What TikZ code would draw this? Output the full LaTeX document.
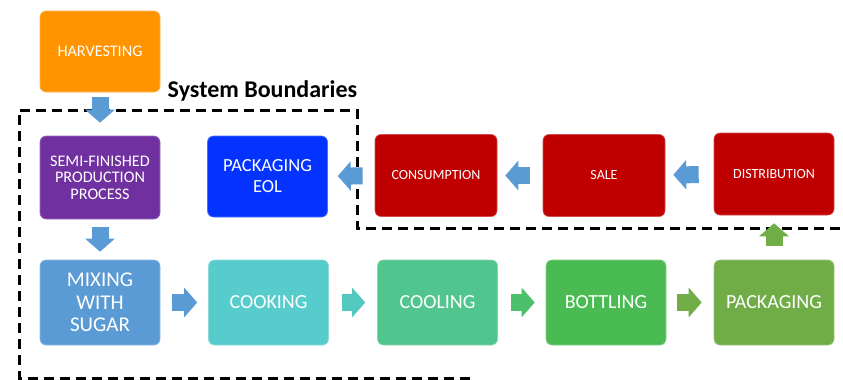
\documentclass[tikz,border=0pt]{standalone}
\usepackage{fontspec}
\setmainfont{Carlito}
\usetikzlibrary{arrows.meta}

\definecolor{harvestorange}{HTML}{FF9300}
\definecolor{semipurple}{HTML}{7030A0}
\definecolor{eolblue}{HTML}{0433FF}
\definecolor{salered}{HTML}{C00000}
\definecolor{mixblue}{HTML}{5B9BD5}
\definecolor{cookteal}{HTML}{56CCCC}
\definecolor{coolgreen}{HTML}{51C58E}
\definecolor{bottlegreen}{HTML}{4ABB52}
\definecolor{packgreen}{HTML}{70AD47}
\definecolor{tealarrow}{HTML}{52C8BE}
\definecolor{greenarrow}{HTML}{4DC06C}

\newcommand\stagesmall{\fontsize{14}{16}\selectfont}
\newcommand\stagemid{\fontsize{16.2}{16.5}\selectfont}
\newcommand\stageeol{\fontsize{18.5}{21}\selectfont}
\newcommand\stagebig{\fontsize{20}{22.5}\selectfont}

\tikzset{
    stage/.style={rounded corners=6pt, fill=#1, draw=#1!70!white, line width=.6pt,
        text=white, align=center, inner sep=2pt, minimum width=120pt},
    flow/.style={draw=#1, line width=17pt, -{Triangle[length=13pt,width=29pt]}},
    boundary/.style={line width=3pt, dash pattern=on 10pt off 6pt},
}

\begin{document}
\begin{tikzpicture}[x=1pt, y=-1pt]
\useasboundingbox (0,0) rectangle (843,380);

% boxes
\node[stage=harvestorange, minimum height=81pt, font=\stagemid] (harvest) at (100,51.5) {HARVESTING};
\node[stage=semipurple, minimum height=83pt, font=\stagemid] (semi) at (100,177.5) {SEMI-FINISHED\\PRODUCTION\\PROCESS};
\node[stage=eolblue, minimum height=81pt, font=\stageeol] (eol) at (267.5,176.5) {PACKAGING\\EOL};
\node[stage=salered, minimum height=82pt, minimum width=122pt, font=\stagesmall] (cons) at (436,175.5) {CONSUMPTION};
\node[stage=salered, minimum height=82pt, minimum width=122pt, font=\stagesmall] (sale) at (604,175.5) {SALE};
\node[stage=salered, minimum height=82pt, font=\stagesmall] (dist) at (774,174) {DISTRIBUTION};

\node[stage=mixblue, minimum height=85pt, font=\fontsize{21}{22.5}\selectfont] (mix) at (100,302.5) {MIXING\\WITH\\SUGAR};
\node[stage=cookteal, minimum height=85pt, font=\stagebig] (cook) at (268.5,302.5) {COOKING};
\node[stage=coolgreen, minimum height=85pt, font=\stagebig] (cool) at (437.5,302.5) {COOLING};
\node[stage=bottlegreen, minimum height=85pt, font=\stagebig] (bottle) at (606,302.5) {BOTTLING};
\node[stage=packgreen, minimum height=85pt, font=\stagebig] (pack) at (774,302.5) {PACKAGING};

% system boundary
\node[font=\bfseries\fontsize{24}{26}\selectfont, anchor=base] (sysbound) at (262.5,97) {System Boundaries};
\draw[boundary] (470,378) -- (19,378) -- (19,110) -- (357,110) -- (357,228) -- (843,228);

% arrows
\draw[flow=mixblue, shorten <=5pt, shorten >=13pt] (harvest) -- (semi);
\draw[flow=mixblue, shorten <=8pt, shorten >=8pt] (semi) -- (mix);
\draw[flow=mixblue, shorten <=12pt, shorten >=11pt] (mix) -- (cook);
\draw[flow=tealarrow, shorten <=13pt, shorten >=12pt] (cook) -- (cool);
\draw[flow=greenarrow, shorten <=13pt, shorten >=11pt] (cool) -- (bottle);
\draw[flow=packgreen, shorten <=11pt, shorten >=12pt] (bottle) -- (pack);
\draw[flow=packgreen, shorten <=14pt, shorten >=8pt] (pack) -- (pack |- dist.south);
\draw[flow=mixblue, shorten <=15pt, shorten >=8pt] (dist) -- (sale);
\draw[flow=mixblue, shorten <=13pt, shorten >=8pt] (sale) -- (cons);
\draw[flow=mixblue, shorten <=12pt, shorten >=10pt] (cons) -- (eol);
\end{tikzpicture}
\end{document}
